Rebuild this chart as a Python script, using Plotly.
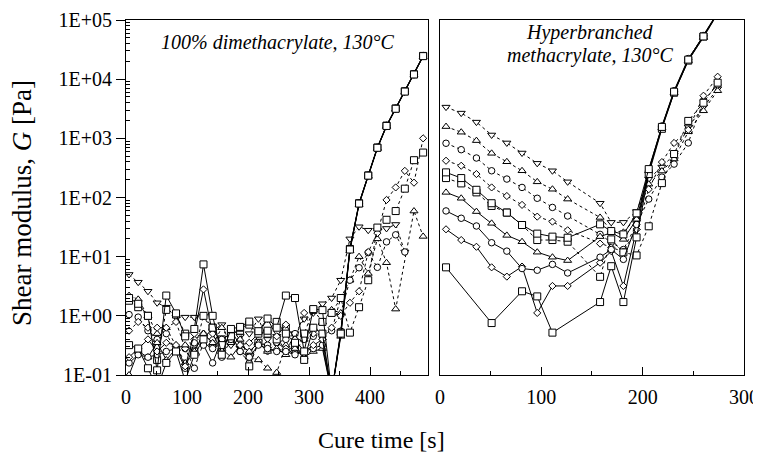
import plotly.graph_objects as go

# ---- left panel: 100% dimethacrylate ----
t_left = [5, 20, 36, 51, 66, 82, 97, 112, 127, 142, 157, 172, 187, 202, 217, 232,
          247, 262, 277, 292, 307, 322, 337, 352, 367, 382, 397, 412, 427, 442,
          457, 472, 487]

# dotted series (Pa)
left_dot_tri_down = [5.0, 3.7, 2.6, 1.66, 1.4, 0.95, 0.95, 0.95, 0.98, 0.56, 0.71, 0.32,
                     0.45, 0.5, 0.89, 0.4, 0.45, 0.25, 0.5, 0.89, 1.12, 1.6, 2.0,
                     4.0, 20, 32, 28, 28, 30, 35, 12, None, None]
left_dot_tri_up = [2.2, 1.9, 1.0, 0.5, 0.63, 0.32, 0.16, 0.25, 0.5, 0.32, 0.63, 0.35,
                   0.4, 0.2, 0.18, 0.13, 0.11, 0.32, 0.25, 0.4, 0.63, 0.79, 1.26,
                   1.12, 4.0, 10, 5.2, 20, 7.9, 1.3, None, 59, 22]
left_dot_circle = [1.05, 0.95, 0.56, 0.4, 0.5, 0.25, 0.28, 0.13, 0.35, 0.28, 0.2, 0.4,
                   0.25, 0.16, 0.35, 0.32, 0.35, 0.4, 0.5, 0.4, 0.45, 0.5, 0.56,
                   2.0, 4.0, 6.5, 11.7, 6.6, 17.8, 23.4, 12, None, None]
left_dot_diamond = [0.56, 0.79, 0.63, 0.63, 0.63, 0.79, 0.28, 0.4, 0.5, 0.4, 0.28, 0.45,
                    0.25, 0.2, 0.5, 0.25, 0.35, 0.28, 0.4, 1.12, 0.5, 0.4, 0.63,
                    1.0, 1.66, 2.6, 12, 25, 91, 148, 282, 178, 1000]
left_dot_square = [1.8, 1.4, 1.0, 0.18, 1.26, 1.05, 0.5, 0.25, 1.0, 0.63, 0.4, 0.5,
                   0.56, 0.14, 0.35, 0.5, 0.4, 0.63, 0.32, 0.5, 1.26, 0.79, 1.12,
                   2.0, 0.52, 1.4, 4.0, 31, 42, 59, 141, 427, 575]

# solid series (Pa)
left_sol_square_a = [2.0, 1.6, 1.0, 0.12, 2.2, 1.1, 0.45, 0.6, 7.4, 1.0, 0.22, 0.6,
                     0.65, 0.8, 0.55, 0.9, 0.63, 2.2, 2.0, 0.25, 1.3, 1.25, 0.05,
                     0.5, 13.2, 79, 234, 692, 1620, 3160, 6170, 12000, 24500]
left_sol_diamond = [0.2, 0.28, 0.4, 0.25, 0.35, 0.32, 0.14, 0.5, 2.8, 0.5, 0.25, 0.56,
                    0.32, 0.35, 0.5, 0.89, 0.45, 0.71, 0.4, 0.25, 0.32, 0.4, 0.05,
                    0.48, 12.9, 78, 232, 685, 1610, 3130, 6100, 11900, 24300]
left_sol_circle = [0.16, 0.22, 0.2, 0.22, 0.25, 0.28, 0.13, 0.35, 0.32, 0.16, 0.4, 0.5,
                   0.25, 0.2, 0.32, 0.28, 0.25, 0.25, 0.22, 0.25, 0.28, 0.32, 0.05,
                   0.55, 13.8, 81, 240, 708, 1660, 3240, 6310, 12300, 25100]
left_sol_tri_up = [0.1, 0.25, 0.2, 0.35, 0.18, 0.28, 0.32, 0.25, 0.5, 0.35, 0.28, 0.2,
                   0.32, 0.25, 0.35, 0.25, 0.28, 0.22, 0.28, 0.2, 0.25, 0.28, 0.05,
                   0.45, 12.6, 76, 229, 676, 1590, 3100, 6030, 11700, 24000]
left_sol_square_b = [0.32, 0.28, 0.13, 0.06, 0.16, 0.25, 0.08, 0.22, 0.4, 0.63, 0.32, 0.45,
                     0.63, 0.71, 0.5, 0.56, 0.79, 0.5, 0.35, 0.18, 0.63, 0.5, 0.05,
                     0.52, 13.5, 80, 236, 700, 1640, 3200, 6240, 12100, 24700]

# ---- right panel: hyperbranched methacrylate ----
t_right = [6, 21, 36, 51, 66, 81, 96, 111, 126, 158, 169, 181, 194, 206, 219, 231, 245, 260, 274]

right_dot_tri_down = [3370, 2670, 1880, 1140, 836, 565, 378, 283, 184, 80, 38, 38,
                      58, 205, 327, 523, 1560, 3410, 6900]
right_dot_tri_up = [1580, 1270, 915, 558, 402, 283, 184, 138, 94, 46, 27.9, 25.8,
                    46, 168, 280, 447, 1290, 2920, 6380]
right_dot_circle = [826, 643, 465, 283, 205, 148, 97, 68, 48.7, 23.8, 17.4, 13.2,
                    35, 94, 221, 367, 836, 4310, 8070]
right_dot_diamond = [418, 344, 249, 148, 106, 75, 47.5, 39.1, 27.9, 16.6, 14.3, 12.2,
                     29, 138, 397, 836, 1390, 5250, 11000]
right_dot_square = [213, 173, 122, 72, 55.6, 34.3, 19.1, 19.1, 17.9, 4.56, 19.6, 11.8,
                    10.5, 32.6, 175, 543, 1970, 3990, 8730]

right_sol_square_a = [266, 213, 135, 80, 55.6, 34.3, 24.5, 21.8, 20.9, 35.2, 27.1, 23.8,
                      54, 302, 1560, 6140, 21400, 52700, 130000]
right_sol_tri_up = [122, 97, 57.8, 36.6, 22.9, 17.9, 11.9, 9.8, 8.6, 21.8, 25.5, 19.6,
                    42.8, 280, 1500, 5900, 20600, 50700, 128000]
right_sol_circle = [59.3, 44.6, 33, 17.2, 12.4, 6.3, 5.9, 7.4, 5.3, 9.8, 13.2, 9.0,
                    35, 291, 1620, 6380, 22300, 52700, 132000]
right_sol_diamond = [29, 19.1, 14.7, 6.6, 4.6, 6.8, 1.12, 3.2, 3.2, 7.9, 12.4, 3.2,
                     29, 269, 1560, 6140, 21400, 54800, 135000]
t_right_low_square = [6, 51, 81, 96, 111, 158, 169, 181, 194, 206, 219, 231, 245, 260, 274]
right_sol_square_b = [6.6, 0.755, 2.6, 2.13, 0.52, 1.71, 6.9, 1.71, 21.2, 249, 1450,
                      5900, 20600, 52700, 130000]

y_ticks = [0.1, 1, 10, 100, 1000, 10000, 100000]
y_tick_text = ["1E-01", "1E+00", "1E+01", "1E+02", "1E+03", "1E+04", "1E+05"]

SERIF = "Liberation Serif"
marker_size = {"square": 7, "triangle-down": 7, "triangle-up": 7, "circle": 6.5, "diamond": 5.5}

fig = go.Figure()


def add_series(x, y, symbol, dash, panel):
    fig.add_trace(go.Scatter(
        x=x, y=y,
        mode="lines+markers",
        connectgaps=True,
        line=dict(color="black", width=1, dash=dash),
        marker=dict(symbol=symbol, size=marker_size[symbol], color="white",
                    line=dict(color="black", width=1)),
        xaxis="x" if panel == 1 else "x2",
        yaxis="y" if panel == 1 else "y2",
        showlegend=False,
    ))


# left panel
add_series(t_left, left_dot_tri_down, "triangle-down", "dot", 1)
add_series(t_left, left_dot_tri_up, "triangle-up", "dot", 1)
add_series(t_left, left_dot_circle, "circle", "dot", 1)
add_series(t_left, left_dot_diamond, "diamond", "dot", 1)
add_series(t_left, left_dot_square, "square", "dot", 1)
add_series(t_left, left_sol_tri_up, "triangle-up", "solid", 1)
add_series(t_left, left_sol_circle, "circle", "solid", 1)
add_series(t_left, left_sol_diamond, "diamond", "solid", 1)
add_series(t_left, left_sol_square_b, "square", "solid", 1)
add_series(t_left, left_sol_square_a, "square", "solid", 1)

# right panel
add_series(t_right, right_dot_tri_down, "triangle-down", "dot", 2)
add_series(t_right, right_dot_tri_up, "triangle-up", "dot", 2)
add_series(t_right, right_dot_circle, "circle", "dot", 2)
add_series(t_right, right_dot_diamond, "diamond", "dot", 2)
add_series(t_right, right_dot_square, "square", "dot", 2)
add_series(t_right, right_sol_diamond, "diamond", "solid", 2)
add_series(t_right, right_sol_circle, "circle", "solid", 2)
add_series(t_right, right_sol_tri_up, "triangle-up", "solid", 2)
add_series(t_right_low_square, right_sol_square_b, "square", "solid", 2)
add_series(t_right, right_sol_square_a, "square", "solid", 2)

minor_log = [m * 10 ** e for e in range(-1, 5) for m in range(2, 10)]

xaxis_common = dict(
    showline=True, mirror=True, linecolor="black", linewidth=1,
    showgrid=False, zeroline=False, automargin=False,
    ticks="inside", ticklen=8, tickcolor="black", ticklabelstandoff=4,
    ticklabeloverflow="allow",
    minor=dict(ticks="inside", ticklen=4, dtick=50, tickcolor="black"),
    tickfont=dict(family=SERIF, size=20, color="black"),
)

# page body has an 8px margin, so the figure is offset by 8px
fig.update_layout(
    width=753, height=444,
    margin=dict(l=118, r=17, t=12, b=77),
    paper_bgcolor="white", plot_bgcolor="white",
    xaxis=dict(domain=[0, 0.4887], range=[0, 495], anchor="y",
               tickvals=[0, 100, 200, 300, 400], **xaxis_common),
    xaxis2=dict(domain=[0.508, 1], range=[0, 300], anchor="y2",
                tickvals=[0, 100, 200, 300], **xaxis_common),
    yaxis=dict(type="log", range=[-1, 5], anchor="x", automargin=False,
               showline=True, mirror=True, linecolor="black", linewidth=1,
               showgrid=False, zeroline=False,
               tickvals=y_ticks, ticktext=y_tick_text,
               ticks="outside", ticklen=9, tickcolor="black",
               minor=dict(ticks="inside", ticklen=4, tickvals=minor_log, tickcolor="black"),
               tickfont=dict(family=SERIF, size=20, color="black")),
    yaxis2=dict(type="log", range=[-1, 5], anchor="x2", matches="y", automargin=False,
                showline=True, mirror=True, linecolor="black", linewidth=1,
                showgrid=False, zeroline=False, showticklabels=False, ticks=""),
    annotations=[
        dict(text="<i>100% dimethacrylate, 130°C</i>", xref="paper", yref="paper",
             x=0.246, y=0.938, xanchor="center", yanchor="middle", showarrow=False,
             font=dict(family=SERIF, size=20, color="black")),
        dict(text="<i>Hyperbranched</i>", xref="paper", yref="paper",
             x=0.751, y=0.966, xanchor="center", yanchor="middle", showarrow=False,
             font=dict(family=SERIF, size=20, color="black")),
        dict(text="<i>methacrylate, 130°C</i>", xref="paper", yref="paper",
             x=0.751, y=0.901, xanchor="center", yanchor="middle", showarrow=False,
             font=dict(family=SERIF, size=20, color="black")),
        dict(text="Shear modulus, <i>G</i> [Pa]", xref="paper", yref="paper",
             x=-0.168, y=0.485, xanchor="center", yanchor="middle",
             textangle=-90, showarrow=False,
             font=dict(family=SERIF, size=27, color="black")),
        dict(text="Cure time [s]", xref="paper", yref="paper",
             x=0.414, y=-0.183, xanchor="center", yanchor="middle", showarrow=False,
             font=dict(family=SERIF, size=24, color="black")),
    ],
)

fig.write_html("out.html")
